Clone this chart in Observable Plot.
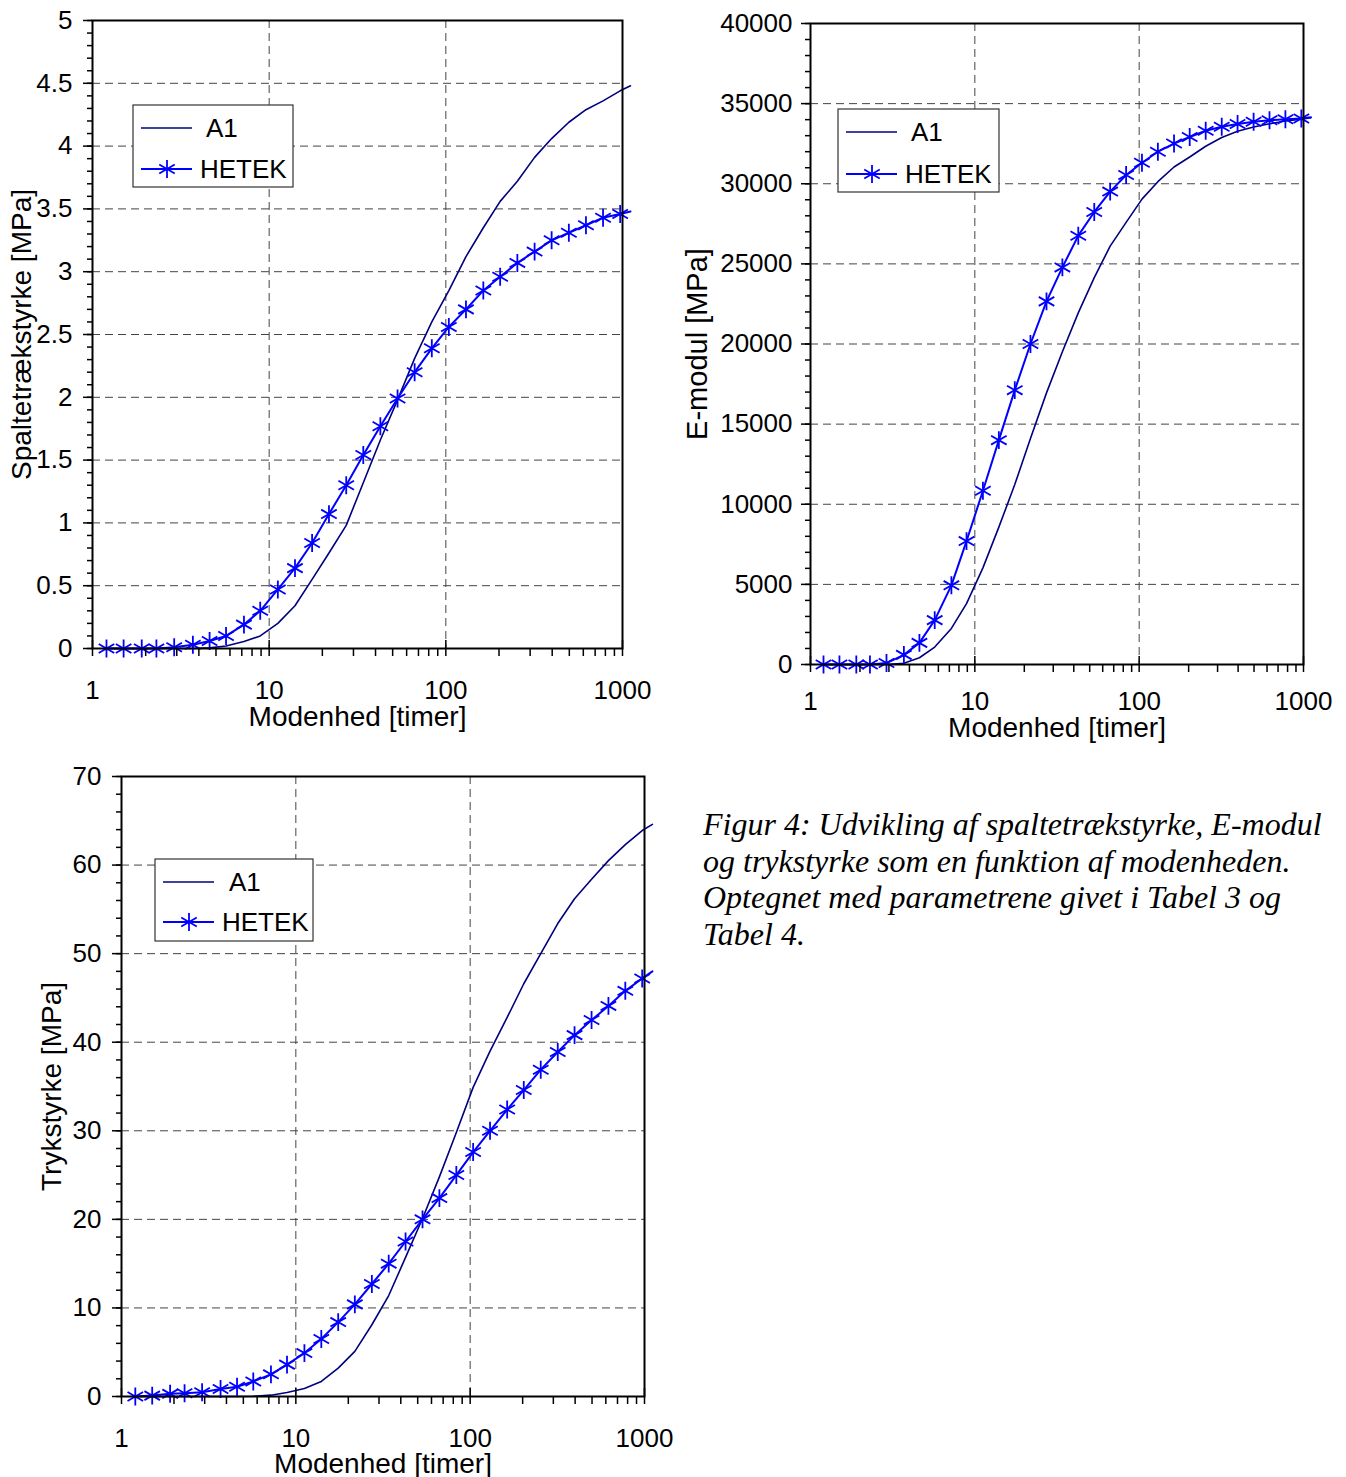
<!DOCTYPE html>
<html>
<head>
<meta charset="utf-8">
<script src="https://cdn.jsdelivr.net/npm/d3@7"></script>
<script src="https://cdn.jsdelivr.net/npm/@observablehq/plot@0.6"></script>
<style>
  body { margin: 0; background: #fff; }
  #wrap { position: relative; width: 1346px; height: 1477px; overflow: hidden; background: #fff;
          font-family: "Liberation Sans", Arial, sans-serif; }
  .abs { position: absolute; }
  #caption { position: absolute; left: 703px; top: 806px; font-family: "Liberation Serif", "Times New Roman", serif;
             font-style: italic; font-size: 32px; line-height: 36.5px; white-space: nowrap; color: #000; }
</style>
</head>
<body>
<div id="wrap"></div>
<script>
// Modenhed [timer] (maturity, hours) – sample points; the last one is the end of the drawn lines (no marker)
const timer = [1.2, 1.5, 1.9, 2.3, 2.9, 3.7, 4.6, 5.7, 7.2, 8.9, 11.2, 14, 17.5, 21.8, 27.3, 34.1, 42.6, 53.3,
  66.6, 83.3, 104, 130, 163, 203, 254, 318, 397, 497, 621, 776, 970, 1110];

// Spaltetrækstyrke [MPa]
const spaltA1 = [0, 0, 0, 0, 0, 0, 0.005, 0.02, 0.055, 0.10, 0.20, 0.34, 0.55, 0.76, 0.98, 1.32, 1.66, 1.98,
  2.31, 2.60, 2.85, 3.12, 3.35, 3.56, 3.72, 3.91, 4.06, 4.19, 4.29, 4.36, 4.44, 4.48];
const spaltHETEK = [0, 0, 0, 0, 0.01, 0.03, 0.06, 0.10, 0.19, 0.30, 0.47, 0.64, 0.84, 1.07, 1.30, 1.54, 1.77, 1.99,
  2.20, 2.39, 2.56, 2.70, 2.85, 2.96, 3.07, 3.16, 3.25, 3.31, 3.37, 3.43, 3.46, 3.48];

// E-modul [MPa]
const eA1 = [0, 0, 0, 0, 0, 80, 420, 1090, 2250, 3800, 6030, 8570, 11230, 14100, 16950, 19520, 21940, 24140,
  26110, 27590, 29040, 30130, 31045, 31670, 32340, 32890, 33280, 33540, 33740, 33920, 34030, 34120];
const eHETEK = [0, 0, 0, 0, 90, 600, 1350, 2770, 4940, 7700, 10840, 14000, 17120, 20000, 22660, 24780, 26760, 28240,
  29510, 30550, 31310, 32000, 32510, 32920, 33310, 33560, 33730, 33870, 33960, 34020, 34070, 34150];

// Trykstyrke [MPa]
const trykA1 = [0, 0, 0, 0, 0, 0, 0, 0.02, 0.15, 0.45, 0.9, 1.7, 3.2, 5.1, 8.1, 11.4, 15.7, 20.1,
  24.8, 29.8, 34.9, 39.0, 42.8, 46.6, 50.0, 53.4, 56.2, 58.4, 60.5, 62.3, 63.9, 64.6];
const trykHETEK = [0, 0.1, 0.3, 0.37, 0.48, 0.85, 1.1, 1.7, 2.5, 3.6, 4.9, 6.5, 8.4, 10.4, 12.7, 15.0, 17.5, 20.0,
  22.4, 25.0, 27.6, 30.0, 32.4, 34.6, 36.9, 38.9, 40.8, 42.5, 44.1, 45.8, 47.2, 48.0];

// ticks
const xMajor = [1, 10, 100, 1000];
const xMinor = [2, 3, 4, 5, 6, 7, 8, 9, 20, 30, 40, 50, 60, 70, 80, 90, 200, 300, 400, 500, 600, 700, 800, 900];
const spaltTicks = [0, 0.5, 1, 1.5, 2, 2.5, 3, 3.5, 4, 4.5, 5];
const spaltMinor = d3.range(0, 51).map(i => i / 10);
const eTicks = [0, 5000, 10000, 15000, 20000, 25000, 30000, 35000, 40000];
const eMinor = d3.range(0, 41).map(i => i * 1000);
const trykTicks = [0, 10, 20, 30, 40, 50, 60, 70];
const trykMinor = d3.range(0, 36).map(i => i * 2);

const xTitle = "Modenhed [timer]";
const seriesNames = ["A1", "HETEK"];
const A1_COLOR = "#00007f";
const HETEK_COLOR = "#0000ff";
const FONT = "Liberation Sans, Arial, sans-serif";

const wrap = document.getElementById("wrap");
const noText = () => "";

function makePanel(cfg) {
  const n = timer.length;
  const data = timer.map((t, i) => ({ t, a1: cfg.a1[i], hetek: cfg.hetek[i], marker: i < n - 1 }));
  const gridStyle = { stroke: "#444", strokeOpacity: 1, strokeWidth: 1, strokeDasharray: "8,5" };
  const yMax = cfg.yTicks[cfg.yTicks.length - 1];
  const chart = Plot.plot({
    width: cfg.w, height: cfg.h,
    marginLeft: cfg.ml, marginRight: cfg.mr, marginTop: cfg.mt, marginBottom: cfg.mb,
    x: { type: "log", domain: [1, 1000] },
    y: { domain: [0, yMax] },
    style: { fontFamily: FONT, fontSize: "26px", color: "#000", background: "transparent", overflow: "visible" },
    marks: [
      Plot.gridY(cfg.yTicks.filter(v => v > 0 && v < yMax), gridStyle),
      Plot.gridX([10, 100], gridStyle),
      Plot.line(data, { x: "t", y: "a1", stroke: A1_COLOR, strokeWidth: 1.6 }),
      Plot.line(data, { x: "t", y: "hetek", stroke: HETEK_COLOR, strokeWidth: 2 }),
      Plot.dot(data.filter(d => d.marker), { x: "t", y: "hetek", symbol: "asterisk", r: 8.5, stroke: HETEK_COLOR, strokeWidth: 1.8 }),
      Plot.frame({ stroke: "#000", strokeWidth: 2 }),
      Plot.axisY(cfg.yMinor, { tickSize: 5, tickFormat: noText, label: null, strokeWidth: 1.5 }),
      Plot.axisY(cfg.yTicks, { tickSize: 9, tickPadding: cfg.yPad, tickFormat: d => String(d), label: null, fontSize: 26, strokeWidth: 1.5 }),
      Plot.axisX(xMinor, { tickSize: 8, tickFormat: noText, label: null, strokeWidth: 1.5 }),
      Plot.axisX(xMajor, { tickSize: -8, tickFormat: noText, label: null, strokeWidth: 1.5 }),
      Plot.axisX(xMajor, { tickSize: 8, tickPadding: cfg.xPad, tickFormat: d => String(d), label: null, fontSize: 26, strokeWidth: 1.5 }),
      Plot.text([xTitle], { text: d => d, frameAnchor: "bottom", textAnchor: "middle", dy: cfg.xdy, fontSize: 28 }),
      Plot.text([cfg.yTitle], { text: d => d, frameAnchor: "left", textAnchor: "middle", dx: cfg.ydx, rotate: -90, fontSize: cfg.ytSize })
    ]
  });
  chart.classList.add("abs");
  chart.style.left = cfg.left + "px";
  chart.style.top = cfg.top + "px";
  wrap.appendChild(chart);

  // legend box
  const L = cfg.legend;
  const svg = d3.create("svg").attr("class", "abs").attr("width", L.w + 2).attr("height", L.h + 2)
    .style("left", (L.x - 1) + "px").style("top", (L.y - 1) + "px").style("overflow", "visible");
  const g = svg.append("g").attr("transform", "translate(1,1)");
  g.append("rect").attr("width", L.w).attr("height", L.h).attr("fill", "#fff").attr("stroke", "#333").attr("stroke-width", 1.2);
  const rows = [
    { name: seriesNames[0], y: L.r1, color: A1_COLOR, sw: 1.6, marker: false, tx: L.t1 },
    { name: seriesNames[1], y: L.r2, color: HETEK_COLOR, sw: 2, marker: true, tx: L.t2 }
  ];
  for (const r of rows) {
    g.append("line").attr("x1", 8).attr("x2", 59).attr("y1", r.y).attr("y2", r.y).attr("stroke", r.color).attr("stroke-width", r.sw);
    if (r.marker) {
      g.append("path").attr("transform", `translate(34,${r.y})`)
        .attr("d", d3.symbol(d3.symbolAsterisk, Math.PI * 72)())
        .attr("stroke", r.color).attr("stroke-width", 1.8).attr("fill", "none");
    }
    g.append("text").attr("x", r.tx).attr("y", r.y).attr("dy", "0.35em").attr("font-family", FONT)
      .attr("font-size", 26).attr("fill", "#000").text(r.name);
  }
  wrap.appendChild(svg.node());
}

makePanel({
  a1: spaltA1, hetek: spaltHETEK, yTicks: spaltTicks, yMinor: spaltMinor, yTitle: "Spaltetrækstyrke [MPa]",
  left: 0, top: 0, w: 680, h: 750, ml: 92, mr: 58, mt: 20, mb: 102,
  yPad: 11, xPad: 24, xdy: 77, ydx: -70, ytSize: 28,
  legend: { x: 133, y: 105, w: 160, h: 82, r1: 23, r2: 64, t1: 73, t2: 67 }
});

makePanel({
  a1: eA1, hetek: eHETEK, yTicks: eTicks, yMinor: eMinor, yTitle: "E-modul [MPa]",
  left: 660, top: 0, w: 686, h: 760, ml: 150, mr: 43, mt: 23, mb: 96,
  yPad: 9, xPad: 19, xdy: 72, ydx: -113, ytSize: 29,
  legend: { x: 838, y: 109, w: 161, h: 83, r1: 23, r2: 65, t1: 73, t2: 67 }
});

makePanel({
  a1: trykA1, hetek: trykHETEK, yTicks: trykTicks, yMinor: trykMinor, yTitle: "Trykstyrke [MPa]",
  left: 0, top: 740, w: 700, h: 737, ml: 121, mr: 56, mt: 36, mb: 81,
  yPad: 11, xPad: 24, xdy: 76, ydx: -69, ytSize: 28,
  legend: { x: 155, y: 859, w: 158, h: 82, r1: 23, r2: 63, t1: 74, t2: 67 }
});

const caption = document.createElement("div");
caption.id = "caption";
caption.innerHTML = "Figur 4: Udvikling af spaltetrækstyrke, E-modul<br>og trykstyrke som en funktion af modenheden.<br>Optegnet med parametrene givet i Tabel 3 og<br>Tabel 4.";
wrap.appendChild(caption);
</script>
</body>
</html>
